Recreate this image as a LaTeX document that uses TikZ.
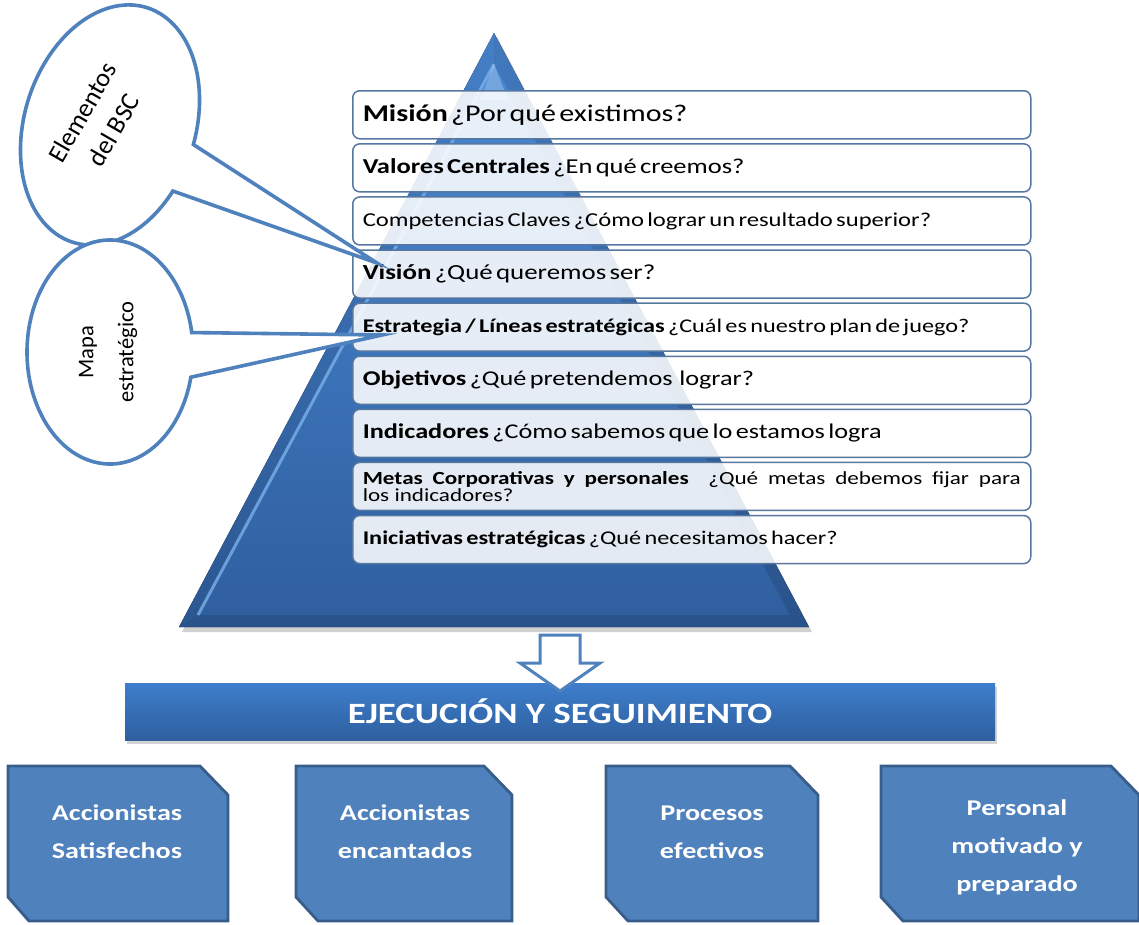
\documentclass[tikz,border=0pt]{standalone}
\usepackage{fontspec}
\setmainfont{Carlito}[FakeStretch=1.25]
\newfontfamily\calloutfont{Carlito}
\usetikzlibrary{shadows,calc}
\definecolor{pyrtop}{HTML}{4A8BD8}
\definecolor{pyrbot}{HTML}{2F5E9E}
\definecolor{rowborder}{HTML}{56779F}
\definecolor{callblue}{HTML}{4F81BD}
\definecolor{boxfill}{HTML}{4F81BD}
\definecolor{boxline}{HTML}{385D8A}
\definecolor{bantop}{HTML}{3E7ECC}
\definecolor{banbot}{HTML}{2E5F9F}
\definecolor{bevel}{HTML}{7AB0EA}
\newcommand{\fs}[2]{\fontsize{#1}{#2}\selectfont}
\begin{document}
\begin{tikzpicture}[x=1pt,y=-1pt,
  rowbox/.style={draw=rowborder, line width=1.5pt, rounded corners=7pt, fill=white,
    fill opacity=0.87, text opacity=1, anchor=north west, minimum height=48pt,
    text width=658pt, inner xsep=10pt, inner ysep=0pt, align=left},
  callout/.style={draw=callblue, line width=3.6pt, fill=white, line join=miter},
  calltext/.style={font=\calloutfont, align=center, text=black},
  cutbox/.style={draw=boxline, line width=2.8pt, fill=boxfill},
  boxtext/.style={text=white, align=center, font=\bfseries\fs{22.5}{38}},
  banner/.style={top color=bantop, bottom color=banbot, minimum width=870pt,
    minimum height=57pt, text=white, font=\bfseries\fs{29.5}{32},
    drop shadow={opacity=0.35, shadow xshift=2pt, shadow yshift=-4pt}},
  hollowarrow/.style={draw=callblue, line width=3pt, fill=white, line join=miter}
]
\useasboundingbox (0,0) rectangle (1139,924);

% ---------- pyramid ----------
\coordinate (apex) at (494,33);
\coordinate (bl) at (179,627);
\coordinate (br) at (809,627);
\coordinate (apexi) at (494,64);
\coordinate (bli) at (198,615);
\coordinate (bri) at (790,615);
\fill[black, opacity=0.18] ($(apex)+(3,4)$) -- ($(bl)+(3,5)$) -- ($(br)+(3,5)$) -- cycle;
\fill[top color=pyrtop, bottom color=pyrbot] (apex) -- (bl) -- (br) -- cycle;
\fill[color=black, opacity=0.08] (apex) -- (bl) -- (bli) -- (apexi) -- cycle;
\fill[color=black, opacity=0.12] (apex) -- (br) -- (bri) -- (apexi) -- cycle;
\fill[color=black, opacity=0.12] (bl) -- (br) -- (bri) -- (bli) -- cycle;
\draw[color=bevel, opacity=0.8, line width=3pt] (apexi) -- (bli);
\fill[color=white, opacity=0.25] (apexi) -- (480,100) -- (508,100) -- cycle;

% ---------- rows ----------
\node[rowbox] (r1) at (352,90.0) {\fs{24}{28}\textbf{Misión} ¿Por qué existimos?};
\node[rowbox] (r2) at (352,143.1) {\fs{21.2}{25}\textbf{Valores Centrales} ¿En qué creemos?};
\node[rowbox] (r3) at (352,196.2) {\fs{19.7}{23}Competencias Claves ¿Cómo lograr un resultado superior?};
\node[rowbox] (r4) at (352,249.3) {\fs{21.5}{25}\textbf{Visión} ¿Qué queremos ser?};
\node[rowbox] (r5) at (352,302.4) {\fs{19.4}{23}\textbf{Estrategia / Líneas estratégicas} ¿Cuál es nuestro plan de juego?};
\node[rowbox] (r6) at (352,355.5) {\fs{21}{25}\textbf{Objetivos} ¿Qué pretendemos\ \ lograr?};
\node[rowbox] (r7) at (352,408.6) {\fs{21}{25}\textbf{Indicadores} ¿Cómo sabemos que lo estamos logra};
\node[rowbox, align=justify] (r8) at (352,461.7) {\fs{18.5}{23}\textbf{Metas Corporativas y personales}\ \ ¿Qué metas debemos fijar para\linebreak los indicadores?};
\node[rowbox] (r9) at (352,514.8) {\fs{19.4}{23}\textbf{Iniciativas estratégicas} ¿Qué necesitamos hacer?};

% ---------- callouts ----------
\coordinate (tipA) at (377,263);
\coordinate (tipB) at (382,335);
\begin{scope}[shift={(110,125)}, rotate=-17.5]
  \draw[callout] (21:85.5 and 123) arc[start angle=21, end angle=357, x radius=85.5, y radius=123] -- (tipA) -- cycle;
\end{scope}
\begin{scope}[shift={(110,352)}]
  \draw[callout] (13:83 and 112) arc[start angle=13, end angle=350, x radius=83, y radius=112] -- (tipB) -- cycle;
\end{scope}
\node[calltext, rotate=60, font=\calloutfont\fs{26}{36}] (bsc) at (98,121) {Elementos\\del BSC};
\node[calltext, rotate=90, font=\calloutfont\fs{22.5}{40}] (mapa) at (108,352) {Mapa\\estratégico};

% ---------- banner and arrow ----------
\node[banner] (ban) at (560,711.5) {EJECUCIÓN Y SEGUIMIENTO};
\draw[hollowarrow] (540,635) -- (580,635) -- (580,663) -- (600,663) -- (560,691) -- (520,663) -- (540,663) -- cycle;

% ---------- bottom boxes ----------
\draw[cutbox] (8,766) -- (200,766) -- (228,795) -- (228,921) -- (29,921) -- (8,897) -- cycle;
\draw[cutbox] (296,766) -- (484,766) -- (512,795) -- (512,921) -- (318,921) -- (296,897) -- cycle;
\draw[cutbox] (606,766) -- (790,766) -- (818,795) -- (818,921) -- (628,921) -- (606,897) -- cycle;
\draw[cutbox] (881,766) -- (1111,766) -- (1139,795) -- (1139,921) -- (903,921) -- (881,897) -- cycle;
\node[boxtext] (b1) at (117,832) {Accionistas\\Satisfechos};
\node[boxtext] (b2) at (405,832) {Accionistas\\encantados};
\node[boxtext] (b3) at (712,832) {Procesos\\efectivos};
\node[boxtext] (b4) at (1017,847) {Personal\\motivado y\\preparado};
\end{tikzpicture}
\end{document}
